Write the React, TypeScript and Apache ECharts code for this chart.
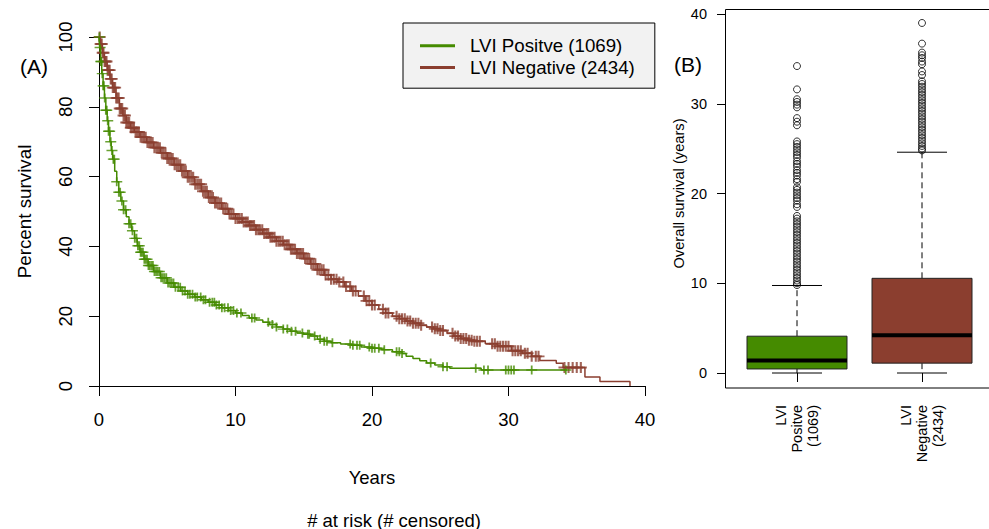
import React, { useEffect, useRef } from "react";
import * as echarts from "echarts";

// Kaplan-Meier step points [years, percent survival]
const kmPositive: [number, number][] = [
  [0, 100], [0.05, 97], [0.12, 93], [0.2, 89.5], [0.3, 86], [0.4, 82.5], [0.5, 79],
  [0.6, 76], [0.7, 73], [0.8, 70], [0.9, 67.5], [1.0, 65], [1.15, 61.5], [1.3, 58.5],
  [1.45, 55.5], [1.6, 53], [1.8, 50.5], [2.0, 48.5], [2.2, 46.5], [2.4, 44.5], [2.6, 42.3],
  [2.8, 40.2], [3.0, 38.3], [3.3, 36.3], [3.6, 34.5], [4.0, 32.8], [4.5, 31], [5.0, 29.5],
  [5.5, 28.3], [6.0, 27.2], [6.5, 26.3], [7.0, 25.5], [7.5, 24.7], [8.0, 24], [8.5, 23.2],
  [9.0, 22.4], [9.5, 21.6], [10.0, 20.9], [10.5, 20.2], [11.0, 19.5], [11.5, 18.9],
  [12.0, 18.3], [12.5, 17.6], [13.0, 16.9], [13.5, 16.3], [14.0, 15.7], [14.5, 15.2],
  [15.0, 14.8], [15.5, 14.3], [16.0, 13.4], [16.5, 12.8], [17.0, 12.4], [17.7, 12.0],
  [18.5, 11.7], [19.2, 11.2], [20.0, 10.8], [20.7, 10.4], [21.5, 9.8], [22.2, 9.3],
  [22.5, 8.5], [23.0, 7.9], [23.5, 7.2], [24.0, 6.6], [24.6, 6.0], [25.2, 5.5], [25.7, 5.1],
  [28.0, 4.6], [34.3, 4.6],
];

const kmNegative: [number, number][] = [
  [0, 100], [0.1, 98], [0.25, 95.5], [0.4, 93], [0.6, 90.5], [0.8, 88], [1.0, 85.5],
  [1.25, 82.5], [1.5, 79.5], [1.75, 77.5], [2.0, 75.5], [2.3, 74], [2.6, 72.8], [3.0, 71.3],
  [3.5, 69.8], [4.0, 68.3], [4.5, 66.8], [5.0, 65.2], [5.5, 63.4], [6.0, 61.6], [6.5, 59.8],
  [7.0, 57.8], [7.5, 55.8], [8.0, 54], [8.5, 52.4], [9.0, 50.8], [9.5, 49.3], [10.0, 48],
  [10.5, 47], [11.0, 46], [11.5, 44.8], [12.0, 43.7], [12.5, 42.6], [13.0, 41.5],
  [13.5, 40.5], [14.0, 39.2], [14.5, 38], [15.0, 36.5], [15.5, 35], [16.0, 33.3],
  [16.5, 31.8], [17.0, 30.6], [17.5, 29.8], [18.0, 28.5], [18.5, 27.2], [19.0, 25.8],
  [19.5, 24.4], [20.0, 23.2], [20.5, 22], [21.0, 20.9], [21.5, 20], [22.0, 19.3],
  [22.5, 18.6], [23.0, 18], [23.5, 17.4], [24.0, 16.9], [24.5, 16.4], [25.0, 15.9],
  [25.5, 15.1], [26.0, 14.3], [26.5, 13.6], [27.0, 13.1], [27.5, 12.8], [28.3, 12.1],
  [29.2, 11.4], [30.2, 10.1], [31.0, 9.4], [31.7, 8.5], [32.3, 7.3], [33.5, 6.5],
  [34.0, 5.3], [35.6, 2.6], [36.7, 1.3], [38.9, 0],
];

// censoring times (years)
const censorPositive: number[] = [
  0.03, 0.08, 0.13, 0.18, 0.24, 0.3, 0.36, 0.42, 0.5, 0.57, 0.64, 0.7, 0.78, 0.86, 0.95,
  1.05, 1.12, 1.3, 1.45, 1.55, 1.68, 1.8, 1.95, 2.2, 2.32, 2.45, 2.62, 2.75, 2.85, 2.95,
  3.05, 3.12, 3.22, 3.32, 3.42, 3.52, 3.62, 3.72, 3.84, 3.95, 4.06, 4.18, 4.3, 4.42, 4.55,
  4.68, 4.8, 4.93, 5.06, 5.2, 5.33, 5.46, 5.6, 5.8, 5.95, 6.12, 6.3, 6.5, 6.66, 6.85, 7.05,
  7.2, 7.45, 7.65, 7.8, 8.1, 8.3, 8.45, 8.6, 8.8, 9.0, 9.2, 9.45, 9.65, 9.85, 10.1, 10.4,
  11.2, 11.4, 12.4, 12.7, 13.0, 13.5, 13.8, 14.1, 14.4, 14.9, 15.3, 15.4, 15.8, 16.2, 16.5,
  16.7, 17.1, 18.4, 18.6, 18.9, 19.1, 19.8, 20.0, 20.2, 20.5, 20.9, 21.8, 22.0, 22.2, 24.3,
  25.2, 25.5, 27.6, 28.2, 28.5, 29.8, 30.0, 30.2, 30.4, 31.7, 34.2,
];

const censorNegative: number[] = [
  0.05, 0.12, 0.2, 0.27, 0.33, 0.41, 0.48, 0.55, 0.63, 0.7, 0.78, 0.86, 0.93, 1.01, 1.1,
  1.18, 1.26, 1.35, 1.44, 1.52, 1.61, 1.7, 1.8, 1.9, 2.0, 2.1, 2.21, 2.33, 2.45, 2.56, 2.68,
  2.8, 2.92, 3.05, 3.17, 3.3, 3.42, 3.55, 3.68, 3.8, 3.93, 4.06, 4.2, 4.33, 4.46, 4.6, 4.73,
  4.87, 5.0, 5.13, 5.27, 5.4, 5.54, 5.68, 5.81, 5.95, 6.08, 6.22, 6.36, 6.5, 6.63, 6.77, 6.9,
  7.05, 7.2, 7.34, 7.48, 7.62, 7.77, 7.9, 8.05, 8.2, 8.35, 8.5, 8.64, 8.8, 8.95, 9.1, 9.25,
  9.4, 9.56, 9.7, 9.85, 10.0, 10.16, 10.3, 10.46, 10.6, 10.76, 10.9, 11.06, 11.2, 11.36,
  11.5, 11.66, 11.8, 11.96, 12.1, 12.26, 12.4, 12.56, 12.7, 12.86, 13.0, 13.16, 13.3, 13.46,
  13.6, 13.76, 13.9, 14.06, 14.2, 14.36, 14.5, 14.66, 14.8, 14.95, 15.1, 15.25, 15.4, 15.55,
  15.7, 15.85, 16.0, 16.15, 16.3, 16.45, 16.6, 16.8, 17.0, 17.2, 17.4, 17.6, 17.9, 18.1,
  18.4, 18.6, 18.8, 19.4, 19.6, 19.8, 20.0, 20.2, 20.8, 21.0, 21.2, 21.8, 22.0, 22.2, 22.4,
  22.6, 22.8, 23.0, 23.2, 23.4, 23.6, 24.4, 24.6, 24.8, 25.0, 25.2, 25.9, 26.1, 26.3, 26.5,
  26.7, 26.9, 27.1, 27.3, 27.5, 27.7, 27.9, 28.8, 29.0, 29.2, 29.4, 29.6, 29.8, 30.0, 30.3,
  30.5, 30.7, 30.9, 31.2, 31.4, 31.7, 32.0, 32.2, 34.1, 34.4, 34.7, 35.0, 35.3,
];

const legendNames = ["LVI Positve (1069)", "LVI Negative (2434)"];

// Box plot
const boxCategories = ["LVI\nPositve\n(1069)", "LVI\nNegative\n(2434)"];
// [min, Q1, median, Q3, upper whisker]
const boxStats: number[][] = [
  [0, 0.45, 1.4, 4.1, 9.75],
  [0, 1.1, 4.2, 10.55, 24.6],
];
const outliersPositive: number[] = [
  34.2, 31.6, 30.5, 30.2, 29.9, 29.6, 28.4, 28.0, 27.6, 25.8, 25.5, 25.2, 24.9, 24.6, 24.3,
  24.0, 23.6, 23.3, 23.0, 22.6, 22.3, 22.0, 21.6, 21.3, 20.7, 20.4, 20.1, 19.8, 19.5, 19.2,
  18.8, 18.5, 17.5, 17.2, 16.9, 16.6, 16.3, 16.0, 15.7, 15.4, 15.1, 14.8, 14.5, 14.2, 13.9,
  13.6, 13.3, 13.0, 12.7, 12.4, 12.1, 11.8, 11.5, 11.2, 10.9, 10.6, 10.3, 10.0, 9.8,
];
const outliersNegative: number[] = [
  39.0, 36.7, 35.7, 35.4, 35.1, 34.7, 34.4, 33.6, 33.2, 32.5, 32.2, 31.9, 31.6, 31.3, 31.0,
  30.7, 30.4, 30.1, 29.8, 29.5, 29.2, 28.9, 28.6, 28.3, 28.0, 27.7, 27.4, 27.1, 26.8, 26.5,
  26.2, 25.9, 25.6, 25.3, 25.0, 24.8,
];

const GREEN = "#458B00";
const BROWN = "#8B3E2F";
const FONT = "'Liberation Sans', Arial, sans-serif";
const PLUS = "path://M5 0L5 10M0 5L10 5";

function survivalAt(curve: [number, number][], t: number): number {
  let s = curve[0][1];
  for (const [ti, si] of curve) {
    if (ti <= t) s = si;
    else break;
  }
  return s;
}

export default function App() {
  const ref = useRef<HTMLDivElement>(null);

  useEffect(() => {
    document.body.style.margin = "0";
    if (!ref.current) return;
    const chart = echarts.init(ref.current, undefined, { renderer: "svg" });

    const boxColors = [GREEN, BROWN];

    const option: any = {
      animation: false,
      textStyle: { fontFamily: FONT, color: "#000" },
      grid: [
        { left: 99, top: 37, width: 546, height: 349 },
        { left: 734.5, top: 14, width: 250, height: 359 },
      ],
      legend: {
        left: 403,
        top: 23,
        orient: "vertical",
        backgroundColor: "#f2f2f2",
        borderColor: "#000",
        borderWidth: 1,
        borderRadius: 0,
        padding: [12, 20, 10, 17],
        itemWidth: 35,
        itemHeight: 3,
        itemGap: 0,
        icon: "rect",
        textStyle: { fontSize: 18.7, color: "#000", lineHeight: 21.6, fontFamily: FONT, padding: [0, 0, 0, 10] },
        data: legendNames,
      },
      xAxis: [
        {
          gridIndex: 0,
          type: "value",
          min: 0,
          max: 40,
          interval: 10,
          axisLine: { show: true, lineStyle: { color: "#000", width: 1 } },
          axisTick: { show: true, length: 10, lineStyle: { color: "#000" } },
          axisLabel: { color: "#000", fontSize: 18.5, margin: 24, fontFamily: FONT },
          splitLine: { show: false },
          name: "Years",
          nameLocation: "middle",
          nameGap: 82,
          nameTextStyle: { color: "#000", fontSize: 18.5, fontFamily: FONT },
        },
        {
          gridIndex: 1,
          type: "category",
          data: boxCategories,
          offset: 15,
          axisLine: { show: false },
          axisTick: { show: true, length: 9, alignWithLabel: true, lineStyle: { color: "#000" } },
          axisLabel: { rotate: 90, fontSize: 14.5, color: "#000", margin: 17, lineHeight: 16, interval: 0, fontFamily: FONT },
          splitLine: { show: false },
        },
      ],
      yAxis: [
        {
          gridIndex: 0,
          type: "value",
          min: 0,
          max: 100,
          interval: 20,
          axisLine: { show: true, lineStyle: { color: "#000", width: 1 } },
          axisTick: { show: true, length: 10, lineStyle: { color: "#000" } },
          axisLabel: { rotate: 90, fontSize: 18.5, color: "#000", margin: 24, fontFamily: FONT },
          splitLine: { show: false },
          name: "Percent survival",
          nameLocation: "middle",
          nameGap: 65,
          nameTextStyle: { color: "#000", fontSize: 18.8, fontFamily: FONT },
        },
        {
          gridIndex: 1,
          type: "value",
          min: 0,
          max: 40,
          interval: 10,
          offset: 9.5,
          axisLine: { show: false },
          axisTick: { show: true, length: 8, lineStyle: { color: "#000" } },
          axisLabel: { fontSize: 14.5, color: "#000", margin: 18, fontFamily: FONT },
          splitLine: { show: false },
          name: "Overall survival (years)",
          nameLocation: "middle",
          nameGap: 36,
          nameTextStyle: { color: "#000", fontSize: 14.7, fontFamily: FONT },
        },
      ],
      series: [
        {
          type: "line",
          name: legendNames[1],
          xAxisIndex: 0,
          yAxisIndex: 0,
          data: kmNegative,
          step: "end",
          symbol: "none",
          showSymbol: false,
          lineStyle: { color: BROWN, width: 1.5 },
          itemStyle: { color: BROWN },
        },
        {
          type: "scatter",
          xAxisIndex: 0,
          yAxisIndex: 0,
          data: censorNegative.map((t) => [t, survivalAt(kmNegative, t)]),
          symbol: PLUS,
          symbolSize: [12, 11],
          itemStyle: { color: BROWN, borderColor: BROWN, borderWidth: 2 },
          silent: true,
        },
        {
          type: "line",
          name: legendNames[0],
          xAxisIndex: 0,
          yAxisIndex: 0,
          data: kmPositive,
          step: "end",
          symbol: "none",
          showSymbol: false,
          lineStyle: { color: GREEN, width: 1.5 },
          itemStyle: { color: GREEN },
        },
        {
          type: "scatter",
          xAxisIndex: 0,
          yAxisIndex: 0,
          data: censorPositive.map((t) => [t, survivalAt(kmPositive, t)]),
          symbol: PLUS,
          symbolSize: [11, 9],
          itemStyle: { color: GREEN, borderColor: GREEN, borderWidth: 1.6 },
          silent: true,
        },
        {
          type: "custom",
          xAxisIndex: 1,
          yAxisIndex: 1,
          data: boxStats.map((s, i) => [i, ...s]),
          encode: { x: 0, y: [1, 2, 3, 4, 5] },
          renderItem: (params: any, api: any) => {
            const idx = api.value(0);
            const pMin = api.coord([idx, api.value(1)]);
            const pQ1 = api.coord([idx, api.value(2)]);
            const pMed = api.coord([idx, api.value(3)]);
            const pQ3 = api.coord([idx, api.value(4)]);
            const pMax = api.coord([idx, api.value(5)]);
            const band = api.size([1, 0])[0];
            const bw = band * 0.8;
            const cx = pMed[0];
            const dash = { stroke: "#000", lineWidth: 1, lineDash: [6, 4] };
            const solid = { stroke: "#000", lineWidth: 1 };
            return {
              type: "group",
              children: [
                { type: "line", shape: { x1: cx, y1: pQ3[1], x2: cx, y2: pMax[1] }, style: dash },
                { type: "line", shape: { x1: cx, y1: pQ1[1], x2: cx, y2: pMin[1] }, style: dash },
                { type: "line", shape: { x1: cx - bw / 4, y1: pMax[1], x2: cx + bw / 4, y2: pMax[1] }, style: solid },
                { type: "line", shape: { x1: cx - bw / 4, y1: pMin[1], x2: cx + bw / 4, y2: pMin[1] }, style: solid },
                {
                  type: "rect",
                  shape: { x: cx - bw / 2, y: pQ3[1], width: bw, height: pQ1[1] - pQ3[1] },
                  style: { fill: boxColors[idx], stroke: "#222", lineWidth: 1 },
                },
                {
                  type: "line",
                  shape: { x1: cx - bw / 2, y1: pMed[1], x2: cx + bw / 2, y2: pMed[1] },
                  style: { stroke: "#000", lineWidth: 4 },
                },
              ],
            };
          },
          silent: true,
        },
        {
          type: "scatter",
          xAxisIndex: 1,
          yAxisIndex: 1,
          data: [
            ...outliersPositive.map((v) => [0, v]),
            ...outliersNegative.map((v) => [1, v]),
          ],
          symbol: "circle",
          symbolSize: 7,
          itemStyle: { color: "rgba(0,0,0,0)", borderColor: "#000", borderWidth: 1 },
          silent: true,
        },
      ],
      graphic: [
        {
          type: "rect",
          shape: { x: 725.5, y: 9.5, width: 300, height: 378.5 },
          style: { fill: "none", stroke: "#000", lineWidth: 1 },
          silent: true,
        },
        {
          type: "text",
          x: 34,
          y: 66,
          style: { text: "(A)", fontSize: 21, fill: "#000", fontFamily: FONT, align: "center", verticalAlign: "middle" },
        },
        {
          type: "text",
          x: 688,
          y: 64,
          style: { text: "(B)", fontSize: 21, fill: "#000", fontFamily: FONT, align: "center", verticalAlign: "middle" },
        },
        {
          type: "text",
          x: 394,
          y: 520,
          style: { text: "# at risk (# censored)", fontSize: 18.5, fill: "#000", fontFamily: FONT, align: "center", verticalAlign: "middle" },
        },
      ],
    };

    chart.setOption(option);
    return () => chart.dispose();
  }, []);

  return <div ref={ref} style={{ width: 989, height: 529 }} />;
}
